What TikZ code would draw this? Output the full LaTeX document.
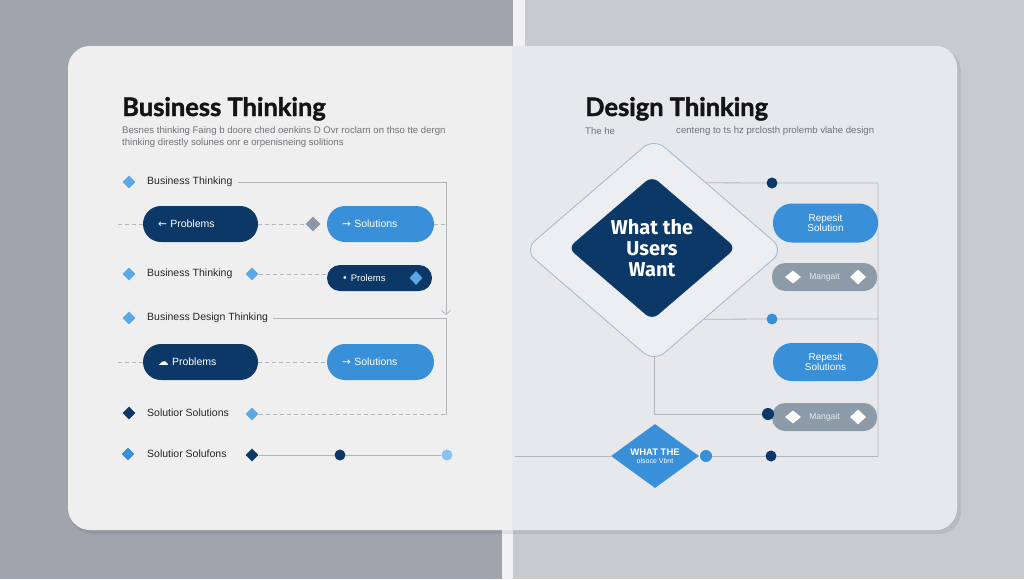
\documentclass[tikz,border=0pt]{standalone}
\usepackage{fontspec}
\setmainfont{Liberation Sans}
\newfontfamily\titlefont{Lato}[BoldFeatures={FakeBold=1.6}]
\newfontfamily\corefont{Fira Sans}
\newfontfamily\sym{DejaVu Sans}
\usetikzlibrary{shapes.geometric,arrows.meta,calc}
\definecolor{bgL}{HTML}{A0A4AD}
\definecolor{bgR}{HTML}{C9CACE}
\definecolor{stripe}{HTML}{F1F1F4}
\definecolor{cardL}{HTML}{EFEFEF}
\definecolor{cardR}{HTML}{E7E8EB}
\definecolor{diafill}{HTML}{EDEEF1}
\definecolor{navy}{HTML}{0C3868}
\definecolor{myblue}{HTML}{3A90D8}
\definecolor{lblue}{HTML}{5AA8E6}
\definecolor{pillgray}{HTML}{8D9BA8}
\definecolor{linegray}{HTML}{B2B5BA}
\definecolor{txtgray}{HTML}{707276}
\definecolor{diagline}{HTML}{9DB9CE}
\definecolor{midgray}{HTML}{8C98A6}
\tikzset{
  bul/.style={diamond, inner sep=0pt, minimum width=13pt, minimum height=13pt},
  lbl/.style={anchor=west, inner sep=0pt, font=\fontsize{10.5}{12}\selectfont, text=black!85},
  pillL/.style={rectangle, rounded corners=18pt, minimum height=36pt, inner xsep=15pt, inner ysep=0pt,
    text width=#1, align=left, text=white, font=\fontsize{10.5}{12}\selectfont},
  pillC/.style={rectangle, rounded corners=13pt, minimum width=105pt, inner sep=0pt, align=center,
    text=white, font=\fontsize{10}{9.8}\selectfont},
  conn/.style={draw=linegray, line width=0.8pt},
  dconn/.style={conn, dash pattern=on 4pt off 3pt},
  dot/.style={circle, inner sep=0pt, minimum size=11pt},
  subt/.style={anchor=west, inner sep=0pt, text=txtgray, font=\fontsize{9.6}{12}\selectfont, align=left},
  ttl/.style={anchor=base west, inner sep=0pt, font=\titlefont\bfseries\fontsize{25.5}{28}\selectfont, text=black!92},
}
\begin{document}
\begin{tikzpicture}[x=1pt,y=-1pt]
\useasboundingbox (0,0) rectangle (1024,579);
% background
\fill[bgL] (0,0) rectangle (513,579);
\fill[bgR] (513,0) rectangle (1024,579);
\fill[stripe] (513,0) rectangle (525,46);
\fill[stripe] (502,530) rectangle (513,579);
% card
\fill[black, opacity=0.07, rounded corners=22pt] (70,49) rectangle (961,534);
\fill[cardL, rounded corners=22pt] (68,46) rectangle (957,530);
\begin{scope}
  \clip[rounded corners=22pt] (68,46) rectangle (957,530);
  \fill[cardR] (512,46) rectangle (957,530);
\end{scope}

% ---------------- LEFT ----------------
\node[ttl] (lt) at (122,116) {Business Thinking};
\node[subt] (ls) at (122,137.5) {Besnes thinking Faing b doore ched oenkins D Ovr roclarn on thso tte dergn\\thinking direstly solunes onr e orpenisneing solitions};

% row 1
\node[bul, fill=lblue] (b1) at (129,182) {};
\node[lbl] (t1) at (147,182) {Business Thinking};
\coordinate (c1) at (446,183);
\coordinate (c2) at (446,315);
\draw[conn, -{Straight Barb[length=4pt,width=9pt]}] ([xshift=5pt]t1.east) -- (t1.east -| c1) -- (c2);

% row 2
\coordinate (l2) at (118,224);
\node[pillL=85pt, fill=navy] (p1) at (200.5,224) {{\sym ←} Problems};
\node[bul, fill=midgray, minimum width=15pt, minimum height=15pt] (g1) at (313,224) {};
\node[pillL=77pt, fill=myblue] (s1) at (380.5,224) {{\sym →} Solutions};
\coordinate (r2) at (446,224);
\draw[dconn] (l2) -- (p1.west);
\draw[dconn] (p1.east) -- (g1.west);
\draw[dconn] (s1.east) -- (r2);

% row 3
\node[bul, fill=lblue] (b3) at (129,274) {};
\node[lbl] (t3) at (147,274) {Business Thinking};
\node[bul, fill=lblue] (m3) at (252,274) {};
\node[rectangle, rounded corners=13pt, minimum height=26pt, inner xsep=15pt, inner ysep=0pt, text width=75pt,
  align=left, text=white, font=\fontsize{9.5}{11}\selectfont, fill=navy] (p3) at (379.5,278) {{\sym •} Prolems};
\node[bul, fill=lblue, minimum width=13pt, minimum height=14pt] (i3) at (416,278) {};
\draw[dconn] (m3.east) -- (p3.west |- m3.east);

% row 4
\node[bul, fill=lblue] (b4) at (129,318) {};
\node[lbl] (t4) at (147,318) {Business Design Thinking};
\coordinate (c4) at (446,415);
\draw[conn] ([xshift=5pt]t4.east) -- (t4.east -| c4) -- (c4);

% row 5
\coordinate (l5) at (118,362);
\node[pillL=85pt, fill=navy] (p5) at (200.5,362) {{\sym ☁} Problems};
\node[pillL=77pt, fill=myblue] (s5) at (380.5,362) {{\sym →} Solutions};
\draw[dconn] (l5) -- (p5.west);
\draw[dconn] (p5.east) -- (s5.west);

% row 6
\node[bul, fill=navy] (b6) at (129,413) {};
\node[lbl] (t6) at (147,413) {Solutior Solutions};
\node[bul, fill=lblue] (m6) at (252,414) {};
\draw[dconn] (m6.east) -- (m6.east -| c4);

% row 7
\node[bul, fill=myblue] (b7) at (128,454) {};
\node[lbl] (t7) at (147,454) {Solutior Solufons};
\node[bul, fill=navy] (m7) at (252,455) {};
\node[dot, fill=navy] (d7) at (340,455) {};
\node[dot, fill=lblue!70] (e7) at (447,455) {};
\draw[conn] (m7.east) -- (d7) -- (e7);

% ---------------- RIGHT ----------------
\node[ttl] (rt) at (585,116) {Design Thinking};
\node[subt] (rs1) at (585,131) {The he};
\node[subt] (rs2) at (676,131) {centeng to ts hz prclosth prolemb vlahe design};

\node[diamond, draw=diagline, line width=0.8pt, fill=diafill, rounded corners=14pt,
  minimum width=260pt, minimum height=224pt, inner sep=0pt] (outer) at (654,250) {};
\node[diamond, fill=navy, rounded corners=8pt, minimum width=168pt, minimum height=144pt, inner sep=0pt,
  text=white, align=center, font=\corefont\bfseries\fontsize{20}{21}\selectfont] (core) at (652,248) {What the\\Users\\Want};

\coordinate (ftop) at (878,183);
\coordinate (fbot) at (878,456);
\coordinate (e1) at ($(outer.north)!0.402!(outer.east)$);
\coordinate (e2) at ($(outer.east)!0.616!(outer.south)$);
\node[dot, fill=navy] (d1) at (772,183) {};
\node[dot, fill=myblue] (d2) at (772,319) {};
\draw[conn] (e1) -- (d1) -- (ftop) -- (fbot);
\draw[conn] (e2) -- (d2) -- (d2 -| ftop);

\node[pillC, fill=myblue, minimum height=39pt, rounded corners=19pt] (rp1) at (825.5,223) {Repesit\\Solution};
\node[pillC, fill=pillgray, minimum height=28pt, text=white!80!pillgray, font=\fontsize{8.5}{9}\selectfont] (gp1) at (824.5,277) {Mangait};
\node[bul, fill=white, minimum width=16pt, minimum height=13pt] (gi1) at (793,277) {};
\node[bul, fill=white, minimum width=16pt, minimum height=15pt] (gj1) at (858,277) {};
\node[pillC, fill=myblue, minimum height=38pt, rounded corners=19pt] (rp2) at (825.5,362) {Repesit\\Solutions};
\node[pillC, fill=pillgray, minimum height=28pt, text=white!80!pillgray, font=\fontsize{8.5}{9}\selectfont] (gp2) at (824.5,417) {Mangait};
\node[bul, fill=white, minimum width=16pt, minimum height=13pt] (gi2) at (793,417) {};
\node[bul, fill=white, minimum width=16pt, minimum height=15pt] (gj2) at (858,417) {};
\node[dot, fill=navy, minimum size=12pt] (d4) at (768,414) {};

\coordinate (v1) at (654,414);
\draw[conn] ([yshift=6pt]outer.south) -- (v1) -- (d4);

\node[diamond, fill=myblue, minimum width=88pt, minimum height=56pt, inner sep=0pt, align=center,
  text=white, font=\fontsize{9.5}{9}\selectfont] (bd) at (655,456) {\textbf{WHAT THE}\\[-1pt]{\fontsize{7}{8}\selectfont olsoce Vbnt}};
\node[dot, fill=myblue, minimum size=12pt] (d5) at (706,456) {};
\node[dot, fill=navy] (d6) at (771,456) {};
\coordinate (l8) at (515,456);
\draw[conn] (l8) -- (bd.west);
\draw[conn] (d5) -- (d6) -- (fbot);
\end{tikzpicture}
\end{document}
